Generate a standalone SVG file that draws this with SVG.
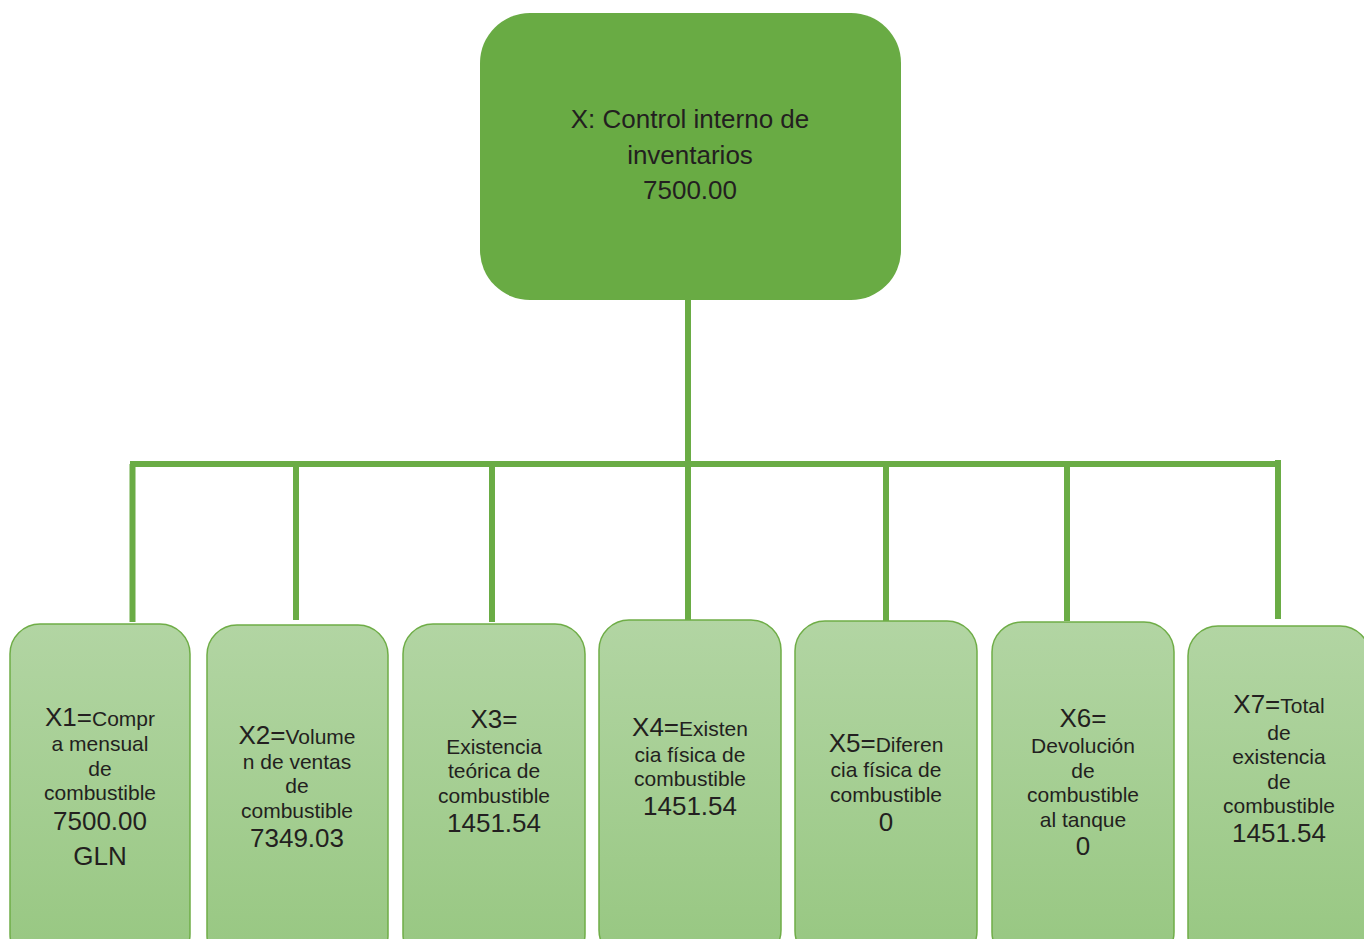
<svg xmlns="http://www.w3.org/2000/svg" width="1364" height="939" viewBox="0 0 1364 939">
<defs>
<linearGradient id="g" x1="0" y1="0" x2="0" y2="1">
<stop offset="0" stop-color="#B2D5A3"/>
<stop offset="1" stop-color="#97C781"/>
</linearGradient>
<style>
.t{font-family:"Liberation Sans",Arial,sans-serif;fill:#231F20;text-anchor:middle}
.b{font-size:26px}
.s{font-size:21px}
.box{fill:url(#g);stroke:#6FAD47;stroke-width:1.5}
.c{stroke:#6AAC45;fill:none;stroke-width:6}
</style>
</defs>
<rect width="1364" height="939" fill="#FFFFFF"/>
<g id="connectors">
<path class="c" d="M688 300 V464"/>
<path class="c" d="M130 464 H1281"/>
<path class="c" d="M132.5 464 V622"/>
<path class="c" d="M296 464 V620"/>
<path class="c" d="M492 464 V622"/>
<path class="c" d="M688 464 V620"/>
<path class="c" d="M886 464 V621"/>
<path class="c" d="M1067 464 V621"/>
<path class="c" d="M1278 460 V619"/>
</g>
<g id="root">
<rect x="480" y="13" width="421" height="287" rx="50" ry="50" fill="#69AB44"/>
<text class="t b" x="690" y="128">X: Control interno de</text>
<text class="t b" x="690" y="164">inventarios</text>
<text class="t b" x="690" y="199">7500.00</text>
</g>
<g id="x1">
<rect class="box" x="10" y="624" width="180" height="340" rx="30" ry="30"/>
<text class="t" x="100" y="726"><tspan class="b">X1=</tspan><tspan class="s">Compr</tspan></text>
<text class="t s" x="100" y="751">a mensual</text>
<text class="t s" x="100" y="776">de</text>
<text class="t s" x="100" y="800">combustible</text>
<text class="t b" x="100" y="830">7500.00</text>
<text class="t b" x="100" y="865">GLN</text>
</g>
<g id="x2">
<rect class="box" x="207" y="625" width="181" height="340" rx="30" ry="30"/>
<text class="t" x="297" y="744"><tspan class="b">X2=</tspan><tspan class="s">Volume</tspan></text>
<text class="t s" x="297" y="769">n de ventas</text>
<text class="t s" x="297" y="793">de</text>
<text class="t s" x="297" y="818">combustible</text>
<text class="t b" x="297" y="847">7349.03</text>
</g>
<g id="x3">
<rect class="box" x="403" y="624" width="182" height="340" rx="30" ry="30"/>
<text class="t b" x="494" y="728">X3=</text>
<text class="t s" x="494" y="754">Existencia</text>
<text class="t s" x="494" y="778">teórica de</text>
<text class="t s" x="494" y="803">combustible</text>
<text class="t b" x="494" y="832">1451.54</text>
</g>
<g id="x4">
<rect class="box" x="599" y="620" width="182" height="340" rx="30" ry="30"/>
<text class="t" x="690" y="736"><tspan class="b">X4=</tspan><tspan class="s">Existen</tspan></text>
<text class="t s" x="690" y="762">cia física de</text>
<text class="t s" x="690" y="786">combustible</text>
<text class="t b" x="690" y="815">1451.54</text>
</g>
<g id="x5">
<rect class="box" x="795" y="621" width="182" height="340" rx="30" ry="30"/>
<text class="t" x="886" y="752"><tspan class="b">X5=</tspan><tspan class="s">Diferen</tspan></text>
<text class="t s" x="886" y="777">cia física de</text>
<text class="t s" x="886" y="802">combustible</text>
<text class="t b" x="886" y="831">0</text>
</g>
<g id="x6">
<rect class="box" x="992" y="622" width="182" height="340" rx="30" ry="30"/>
<text class="t b" x="1083" y="727">X6=</text>
<text class="t s" x="1083" y="753">Devolución</text>
<text class="t s" x="1083" y="778">de</text>
<text class="t s" x="1083" y="802">combustible</text>
<text class="t s" x="1083" y="827">al tanque</text>
<text class="t b" x="1083" y="855">0</text>
</g>
<g id="x7">
<rect class="box" x="1188" y="626" width="182" height="340" rx="30" ry="30"/>
<text class="t" x="1279" y="713"><tspan class="b">X7=</tspan><tspan class="s">Total</tspan></text>
<text class="t s" x="1279" y="740">de</text>
<text class="t s" x="1279" y="764">existencia</text>
<text class="t s" x="1279" y="789">de</text>
<text class="t s" x="1279" y="813">combustible</text>
<text class="t b" x="1279" y="842">1451.54</text>
</g>
</svg>
